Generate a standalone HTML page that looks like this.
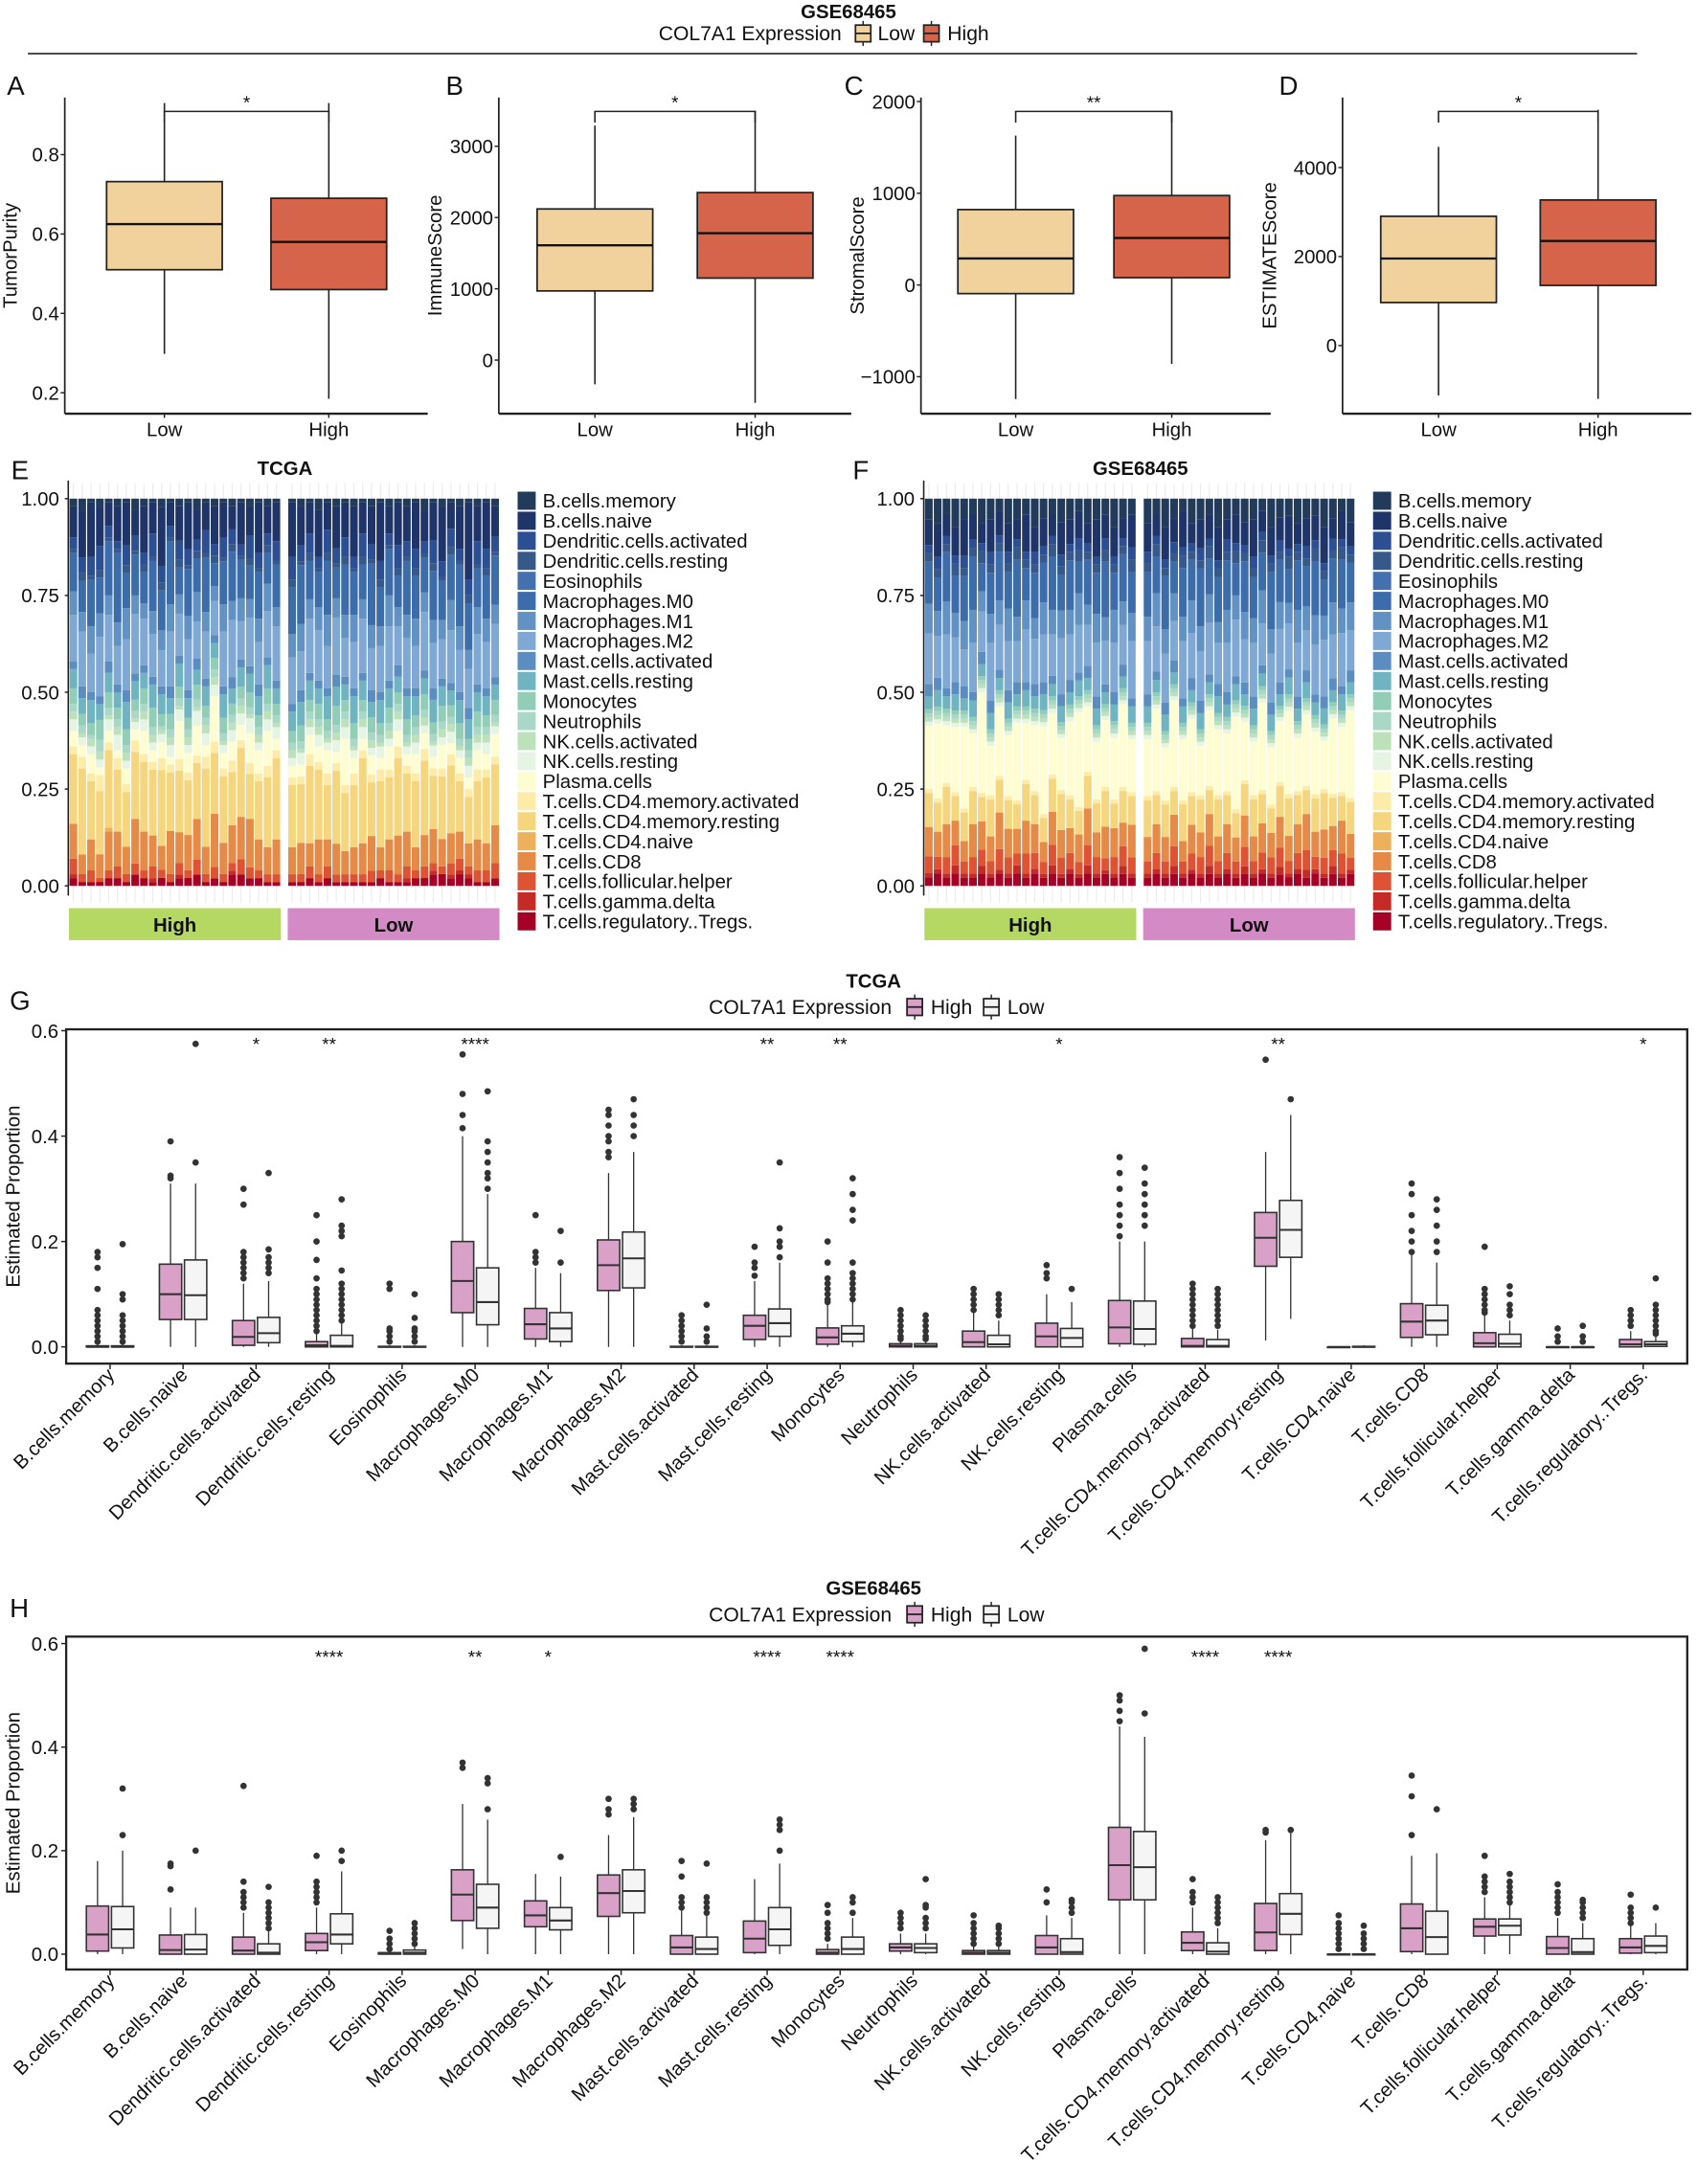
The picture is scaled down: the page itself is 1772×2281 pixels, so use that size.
<!DOCTYPE html>
<html><head><meta charset="utf-8"><title>COL7A1 immune infiltration</title>
<style>html,body{margin:0;padding:0;background:#fff}svg{display:block}text{font-family:"Liberation Sans",Arial,sans-serif;fill:#111}</style></head>
<body>
<svg id="fig" xmlns="http://www.w3.org/2000/svg" width="1772" height="2281" viewBox="0 0 1218 1568" preserveAspectRatio="none"></svg>
<script>
// ---------- data: panels A-D  [whiskerLow, q1, median, q3, whiskerHigh] ----------
const purityLow=[0.298,0.51,0.625,0.732,0.93];
const purityHigh=[0.185,0.46,0.58,0.69,0.93];
const immuneLow=[-340,970,1610,2120,3290];
const immuneHigh=[-600,1150,1780,2350,3500];
const stromalLow=[-1243,-94,289,822,1629];
const stromalHigh=[-860,80,512,975,1880];
const estimateLow=[-1120,967,1956,2905,4466];
const estimateHigh=[-1199,1352,2350,3271,5300];
const purityTicks=[0.2,0.4,0.6,0.8];
const immuneTicks=[0,1000,2000,3000];
const stromalTicks=[-1000,0,1000,2000];
const estimateTicks=[0,2000,4000];
const groupLabels=["Low","High"];

// ---------- data: stacked CIBERSORT bars ----------
const cellTypes=["B.cells.memory","B.cells.naive","Dendritic.cells.activated","Dendritic.cells.resting","Eosinophils","Macrophages.M0","Macrophages.M1","Macrophages.M2","Mast.cells.activated","Mast.cells.resting","Monocytes","Neutrophils","NK.cells.activated","NK.cells.resting","Plasma.cells","T.cells.CD4.memory.activated","T.cells.CD4.memory.resting","T.cells.CD4.naive","T.cells.CD8","T.cells.follicular.helper","T.cells.gamma.delta","T.cells.regulatory..Tregs."];
const cellColors=["#233B5B","#1F3468","#2C4F94","#36598A","#4470B0","#3D6CAA","#6291C4","#7FA8D4","#5B8DC0","#6FB4C0","#92CDB8","#A9D8C6","#BDE2BB","#E6F4E4","#FEFDD2","#FCEBA9","#F6D57F","#EDB15B","#E68A48","#DE5334","#C42A26","#A50026"];
const eHigh=[
[2,8,3,1,0,10,6,12,2,5,4,2,2,3,4,2,18,0,9,4,1,2],[3,12,4,2,0,8,5,14,3,4,3,2,1,2,3,3,22,0,5,2,0,1],[1,14,5,1,0,12,7,10,2,6,3,1,2,2,5,2,15,0,8,3,0,1],[2,10,6,2,0,9,6,15,2,4,5,3,2,2,2,4,16,0,6,1,0,1],
[1,6,3,1,0,14,5,12,3,5,4,2,1,3,3,2,20,1,10,2,0,2],[2,9,2,1,0,18,6,10,2,4,3,2,2,4,2,3,16,0,9,3,0,2],[1,11,5,2,0,9,8,13,3,7,4,2,2,2,4,2,14,0,7,2,0,1],[3,7,4,1,0,11,5,16,2,5,3,2,1,2,3,3,18,0,12,3,0,3],
[2,12,3,2,0,8,4,12,2,4,4,2,2,3,6,2,18,0,10,2,0,2],[1,8,6,1,0,13,6,11,2,6,5,2,2,2,3,2,17,0,8,3,1,1],[2,15,4,2,0,10,5,9,2,5,3,1,1,2,4,3,19,0,6,2,0,2],[1,6,3,1,0,16,7,14,3,4,4,2,2,3,2,2,15,0,11,2,0,1],
[2,9,5,2,0,7,5,11,2,6,3,2,1,3,10,3,16,0,8,3,1,2],[1,12,4,1,0,12,6,13,2,5,3,2,2,2,5,2,14,0,9,2,0,2],[3,8,3,2,0,9,8,10,3,4,4,2,1,4,8,2,15,0,11,4,0,3],[1,7,6,1,0,14,5,12,2,5,3,2,2,3,3,3,20,0,7,2,0,1],
[2,10,3,2,0,6,4,9,2,4,3,2,2,3,12,3,16,0,14,3,0,2],[1,9,5,1,0,11,7,14,2,6,4,2,1,2,4,2,17,0,8,2,0,1],[2,6,4,2,0,13,5,15,3,4,3,2,2,3,5,3,14,0,10,2,1,3],[1,11,3,1,0,10,6,10,2,5,3,2,2,3,4,2,18,0,11,4,0,3],
[2,8,6,2,0,9,5,13,2,5,4,2,1,4,8,3,12,0,13,3,0,2],[1,13,4,1,0,12,6,11,3,5,3,2,2,2,6,2,15,0,8,2,0,2],[2,7,3,2,0,8,7,12,2,6,4,2,2,3,9,3,18,0,7,2,0,1],[1,10,5,1,0,11,5,14,2,4,3,2,1,3,3,2,21,0,9,2,0,1]];
const eLow=[
[1,14,6,2,0,12,6,12,2,5,3,2,2,2,3,2,16,0,7,2,0,1],[2,10,4,1,0,15,7,10,3,6,4,2,1,3,3,2,15,0,8,2,0,1],[1,8,5,2,0,10,5,14,2,5,3,2,2,2,5,3,20,0,6,3,0,2],[3,12,3,1,0,9,6,13,2,4,4,2,2,3,4,2,18,0,9,2,0,1],
[1,7,6,2,0,14,8,11,2,6,3,2,1,2,6,3,14,0,7,3,0,2],[2,11,4,1,0,8,5,15,3,5,5,2,2,3,3,2,19,0,8,2,0,1],[1,9,5,2,0,13,6,10,2,4,3,2,2,3,12,2,15,0,6,2,0,1],[2,13,3,1,0,11,7,12,2,7,4,2,1,2,4,3,16,0,7,2,0,1],
[1,8,6,2,0,9,5,14,2,5,3,2,2,3,3,2,22,0,8,2,0,1],[2,10,4,1,0,16,6,11,3,4,4,2,2,2,5,2,14,0,9,3,0,1],[1,15,5,2,0,10,5,12,2,6,3,2,1,3,3,3,17,0,6,2,0,2],[2,7,3,1,0,12,8,14,2,5,4,2,2,2,6,2,16,0,8,3,0,1],
[1,11,6,2,0,8,5,10,3,4,3,2,2,3,4,3,20,0,10,2,0,1],[2,9,4,1,0,14,6,13,2,6,4,2,1,2,3,2,15,0,9,3,1,1],[1,12,5,2,0,11,7,11,2,5,3,2,2,3,5,2,17,0,6,2,0,2],[3,8,3,1,0,9,5,15,2,4,4,2,2,2,4,3,19,0,8,3,0,2],
[1,10,6,2,0,13,6,12,3,6,3,2,1,3,3,2,14,0,9,2,1,3],[2,14,4,1,0,10,5,10,2,5,4,2,2,2,6,2,16,0,7,2,0,3],[1,7,5,2,0,12,8,14,2,4,3,2,2,3,3,3,18,0,8,3,1,2],[2,11,3,1,0,16,6,11,2,6,4,2,1,2,4,2,13,0,7,3,1,3],
[1,20,4,2,0,12,5,10,3,5,3,2,2,3,3,2,12,0,6,2,1,2],[2,9,6,1,0,10,7,13,2,5,4,2,2,2,5,3,15,0,8,3,0,1],[1,12,5,2,0,11,6,12,2,5,3,2,2,3,4,2,17,0,7,3,0,1],[2,8,4,1,0,13,5,14,2,4,4,2,1,2,6,2,16,0,10,4,0,2]];
const fHigh=[
[5,6,2,2,0,10,7,12,3,3,1,1,1,1,15,1,8,0,7,4,1,2],[6,8,3,2,0,8,6,10,3,4,1,1,1,1,18,1,7,0,6,3,1,3],[4,5,2,2,0,12,8,13,2,3,1,1,1,1,14,1,9,0,8,4,1,2],[7,7,2,3,0,9,6,11,3,4,1,1,1,1,16,1,6,0,6,5,2,3],
[5,9,3,2,0,11,7,9,3,3,1,1,1,1,20,1,7,0,5,3,1,2],[4,6,2,2,0,13,8,12,2,4,1,1,1,1,13,1,8,0,8,4,1,2],[6,5,2,3,0,7,5,10,3,3,1,1,1,1,25,1,6,0,7,4,2,3],[5,8,3,2,0,10,7,14,3,4,1,1,1,1,12,1,9,0,6,3,1,2],
[3,6,2,2,0,12,6,11,2,3,1,1,1,1,17,1,8,0,9,5,1,3],[6,7,3,2,0,9,8,12,3,4,1,1,1,1,15,1,7,0,7,4,1,2],[5,5,2,3,0,14,6,10,3,3,1,1,1,1,19,1,6,0,6,3,2,3],[4,9,2,2,0,8,7,13,2,4,1,1,1,1,14,1,9,0,8,5,1,2],
[7,6,3,2,0,11,5,11,3,3,1,1,1,1,16,1,7,0,7,4,1,3],[5,7,2,2,0,10,8,12,3,4,1,1,1,1,22,1,6,0,5,3,1,2],[4,5,2,3,0,13,6,10,2,3,1,1,1,1,15,1,8,0,8,5,2,3],[6,8,3,2,0,9,7,14,3,4,1,1,1,1,13,1,9,0,7,4,1,2],
[5,6,2,2,0,12,6,11,3,3,1,1,1,1,18,1,7,0,6,4,1,3],[3,7,3,3,0,8,8,12,2,4,1,1,1,1,24,1,6,0,7,3,1,2],[6,5,2,2,0,11,5,10,3,3,1,1,1,1,16,1,8,0,9,5,2,3],[5,9,2,2,0,10,7,13,3,4,1,1,1,1,14,1,7,0,6,4,1,2],
[4,6,3,3,0,14,6,11,2,3,1,1,1,1,17,1,9,0,8,3,1,3],[7,7,2,2,0,9,8,12,3,4,1,1,1,1,15,1,6,0,7,4,1,2],[5,5,2,2,0,12,6,10,3,3,1,1,1,1,21,1,8,0,6,5,2,3],[4,8,3,3,0,10,7,14,2,4,1,1,1,1,13,1,7,0,8,4,1,2]];
const fLow=[
[6,7,3,2,0,11,6,13,3,4,1,1,1,1,14,1,9,0,6,3,1,2],[4,5,2,3,0,9,8,11,2,3,1,1,1,1,20,1,7,0,7,4,1,3],[7,8,2,2,0,13,6,12,3,4,1,1,1,1,13,1,8,0,6,3,1,2],[5,6,3,2,0,8,7,10,3,3,1,1,1,1,22,1,6,0,8,5,2,3],
[3,9,2,3,0,12,6,14,2,4,1,1,1,1,15,1,9,0,5,3,1,2],[6,5,2,2,0,10,8,11,3,3,1,1,1,1,18,1,7,0,7,4,1,3],[5,7,3,2,0,14,6,12,3,4,1,1,1,1,12,1,8,0,6,4,1,2],[4,6,2,3,0,9,7,13,2,3,1,1,1,1,19,1,6,0,8,5,2,3],
[7,8,2,2,0,11,5,10,3,4,1,1,1,1,16,1,9,0,6,3,1,2],[5,5,3,2,0,12,8,12,3,3,1,1,1,1,14,1,7,0,7,4,1,3],[4,7,2,3,0,8,6,14,2,4,1,1,1,1,23,1,6,0,6,3,1,2],[6,6,2,2,0,13,7,11,3,3,1,1,1,1,15,1,8,0,8,5,2,3],
[5,9,3,2,0,10,6,13,3,4,1,1,1,1,13,1,9,0,6,3,1,2],[3,5,2,3,0,9,8,10,2,3,1,1,1,1,21,1,7,0,7,4,1,3],[7,7,2,2,0,14,6,12,3,4,1,1,1,1,14,1,6,0,6,4,1,2],[5,6,3,2,0,11,7,14,3,3,1,1,1,1,16,1,8,0,8,5,2,3],
[4,8,2,3,0,8,5,11,2,4,1,1,1,1,20,1,9,0,6,3,1,2],[6,5,2,2,0,12,8,13,3,3,1,1,1,1,13,1,7,0,7,4,1,3],[5,7,3,2,0,10,6,10,3,4,1,1,1,1,18,1,6,0,9,5,2,2],[4,6,2,3,0,13,7,12,2,3,1,1,1,1,15,1,8,0,6,3,1,3],
[7,9,2,2,0,9,6,14,3,4,1,1,1,1,12,1,9,0,7,4,1,2],[5,5,3,2,0,11,8,11,3,3,1,1,1,1,19,1,7,0,6,4,2,3],[3,7,2,3,0,12,6,13,2,4,1,1,1,1,16,1,6,0,8,5,1,2],[6,6,2,2,0,10,7,10,3,3,1,1,1,1,22,1,8,0,6,3,1,3]];
const stackTicks=[0,0.25,0.5,0.75,1];
const stackTickLabels=["0.00","0.25","0.50","0.75","1.00"];

// ---------- data: panels G/H  [whiskerLow, q1, median, q3, whiskerHigh] ----------
const gHigh=[[0,0,0,0.002,0.005],[0,0.052,0.10,0.157,0.31],[0,0.003,0.019,0.05,0.12],[0,0,0.003,0.01,0.025],[0,0,0,0.001,0.003],[0,0.065,0.125,0.2,0.4],[0,0.015,0.043,0.073,0.15],[0,0.107,0.155,0.203,0.33],[0,0,0,0.001,0.003],[0,0.014,0.04,0.06,0.125],[0,0.005,0.018,0.036,0.08],[0,0,0.002,0.006,0.012],[0,0,0.009,0.03,0.065],[0,0,0.02,0.045,0.1],[0,0.006,0.037,0.088,0.2],[0,0,0.002,0.016,0.035],[0.012,0.153,0.207,0.255,0.37],[0,0,0,0,0],[0,0.018,0.048,0.082,0.175],[0,0,0.007,0.027,0.06],[0,0,0,0,0.001],[0,0,0.005,0.014,0.03]];
const gLow=[[0,0,0,0.002,0.005],[0,0.052,0.098,0.165,0.31],[0,0.008,0.026,0.056,0.125],[0,0,0.002,0.022,0.05],[0,0,0,0.001,0.003],[0,0.042,0.085,0.15,0.29],[0,0.01,0.035,0.065,0.14],[0,0.112,0.168,0.218,0.37],[0,0,0,0.001,0.003],[0,0.02,0.045,0.072,0.16],[0,0.01,0.025,0.04,0.085],[0,0,0.002,0.006,0.012],[0,0,0.005,0.022,0.05],[0,0,0.017,0.035,0.085],[0,0.005,0.034,0.087,0.2],[0,0,0.002,0.014,0.033],[0.053,0.17,0.222,0.278,0.44],[0,0,0,0.001,0.003],[0,0.023,0.05,0.079,0.16],[0,0,0.006,0.024,0.05],[0,0,0,0,0.001],[0,0.001,0.005,0.01,0.02]];
const gHighOut=[[0.01,0.02,0.03,0.04,0.05,0.06,0.07,0.11,0.15,0.17,0.18],[0.32,0.325,0.39],[0.13,0.14,0.15,0.16,0.17,0.18,0.27,0.3],[0.03,0.04,0.05,0.06,0.07,0.08,0.09,0.1,0.11,0.13,0.165,0.2,0.25],[0.01,0.02,0.03,0.035,0.11,0.12],[0.415,0.44,0.48,0.555],[0.16,0.17,0.18,0.25],[0.36,0.37,0.39,0.4,0.42,0.44,0.45],[0.01,0.02,0.03,0.04,0.05,0.06],[0.135,0.15,0.16,0.19],[0.085,0.09,0.1,0.11,0.12,0.13,0.16,0.2],[0.015,0.02,0.03,0.04,0.05,0.06,0.07],[0.07,0.08,0.09,0.1,0.11],[0.13,0.14,0.155],[0.21,0.23,0.25,0.27,0.3,0.33,0.36],[0.04,0.05,0.06,0.07,0.08,0.09,0.1,0.11,0.12],[0.545],[],[0.18,0.2,0.22,0.25,0.29,0.31],[0.065,0.07,0.08,0.09,0.1,0.11,0.19],[0.01,0.02,0.035],[0.04,0.05,0.06,0.07]];
const gLowOut=[[0.01,0.02,0.03,0.04,0.05,0.06,0.09,0.1,0.195],[0.35,0.575],[0.14,0.15,0.16,0.17,0.185,0.33],[0.05,0.06,0.07,0.08,0.09,0.1,0.11,0.12,0.145,0.21,0.22,0.23,0.28],[0.01,0.02,0.03,0.035,0.055,0.1],[0.3,0.32,0.33,0.35,0.37,0.39,0.485],[0.16,0.22],[0.4,0.42,0.44,0.47],[0.01,0.02,0.035,0.08],[0.17,0.19,0.2,0.225,0.35],[0.09,0.1,0.11,0.12,0.13,0.14,0.16,0.24,0.26,0.29,0.32],[0.015,0.02,0.03,0.04,0.05,0.06],[0.06,0.07,0.08,0.09,0.1],[0.11],[0.23,0.25,0.27,0.29,0.31,0.34],[0.04,0.05,0.06,0.07,0.08,0.09,0.1,0.11],[0.47],[],[0.18,0.2,0.23,0.26,0.28],[0.06,0.07,0.08,0.1,0.115],[0.01,0.02,0.04],[0.025,0.03,0.04,0.05,0.06,0.07,0.08,0.13]];
const gSig=["","","*","**","","****","","","","**","**","","","*","","","**","","","","","*"];

const hHigh=[[0,0.006,0.038,0.093,0.18],[0,0,0.008,0.037,0.09],[0,0,0.007,0.033,0.08],[0,0.007,0.023,0.04,0.09],[0,0,0.001,0.003,0.006],[0.01,0.065,0.115,0.163,0.29],[0,0.053,0.075,0.103,0.155],[0,0.073,0.118,0.153,0.23],[0,0,0.013,0.036,0.085],[0,0.003,0.03,0.064,0.145],[0,0,0.003,0.009,0.02],[0,0.006,0.013,0.02,0.04],[0,0,0.003,0.007,0.015],[0,0,0.013,0.036,0.075],[0,0.105,0.172,0.245,0.44],[0,0.007,0.022,0.043,0.09],[0,0.007,0.042,0.098,0.22],[0,0,0,0,0.001],[0,0.005,0.05,0.097,0.19],[0,0.035,0.053,0.068,0.11],[0,0,0.012,0.034,0.07],[0,0.002,0.013,0.03,0.055]];
const hLow=[[0,0.012,0.048,0.092,0.2],[0,0,0.009,0.038,0.09],[0,0,0.003,0.02,0.045],[0,0.02,0.038,0.078,0.16],[0,0,0.003,0.008,0.015],[0,0.05,0.09,0.135,0.26],[0,0.047,0.065,0.09,0.15],[0,0.08,0.122,0.163,0.265],[0,0,0.01,0.033,0.075],[0,0.017,0.048,0.09,0.175],[0,0,0.01,0.033,0.07],[0,0.003,0.012,0.02,0.04],[0,0,0.003,0.007,0.015],[0,0,0.004,0.03,0.07],[0,0.105,0.168,0.237,0.42],[0,0,0.005,0.022,0.05],[0,0.038,0.078,0.117,0.235],[0,0,0,0,0.001],[0,0,0.033,0.083,0.195],[0,0.037,0.055,0.068,0.095],[0,0,0.004,0.03,0.06],[0,0.003,0.016,0.035,0.06]];
const hHighOut=[[],[0.125,0.17,0.175],[0.09,0.1,0.11,0.12,0.14,0.325],[0.1,0.11,0.12,0.13,0.14,0.19],[0.01,0.02,0.03,0.045],[0.36,0.37],[],[0.27,0.28,0.3],[0.09,0.1,0.11,0.15,0.18],[],[0.03,0.04,0.05,0.06,0.08,0.095],[0.05,0.06,0.07,0.08],[0.02,0.03,0.04,0.05,0.06,0.075],[0.1,0.125],[0.45,0.47,0.49,0.5],[0.1,0.11,0.12,0.145],[0.235,0.24],[0.01,0.02,0.03,0.04,0.05,0.06,0.075],[0.23,0.305,0.345],[0.12,0.13,0.14,0.15,0.19],[0.08,0.09,0.1,0.11,0.12,0.135],[0.06,0.07,0.08,0.09,0.115]];
const hLowOut=[[0.23,0.32],[0.2],[0.05,0.06,0.07,0.08,0.09,0.1,0.13],[0.18,0.2],[0.02,0.03,0.04,0.05,0.06],[0.28,0.33,0.34],[0.188],[0.28,0.29,0.3],[0.08,0.09,0.1,0.11,0.175],[0.2,0.24,0.25,0.26],[0.08,0.1,0.11],[0.05,0.06,0.07,0.09,0.095,0.145],[0.02,0.03,0.04,0.05,0.055],[0.08,0.09,0.1,0.105],[0.465,0.59],[0.06,0.07,0.08,0.09,0.1,0.11],[0.24],[0.01,0.02,0.03,0.04,0.055],[0.28],[0.1,0.11,0.12,0.13,0.14,0.155],[0.07,0.08,0.09,0.1,0.105],[0.09]];
const hSig=["","","","****","","**","*","","","****","****","","","","","****","****","","","","",""];
const propTicks=[0,0.2,0.4,0.6];
const propTickLabels=["0.0","0.2","0.4","0.6"];

// ---------- helpers ----------
const NS="http://www.w3.org/2000/svg";
const svg=document.getElementById('fig');
function el(tag,attrs,parent,txt){const e=document.createElementNS(NS,tag);for(const k in attrs)e.setAttribute(k,attrs[k]);if(txt!==undefined)e.textContent=txt;(parent||svg).appendChild(e);return e;}
function grp(name){const g=el('g',{});return g;}
function lin(d0,d1,r0,r1){return v=>r0+(v-d0)/(d1-d0)*(r1-r0);}

// header
const hdr=grp('header');
el('text',{x:609,y:13,'text-anchor':'middle','font-size':14,'font-weight':'bold'},hdr,'GSE68465');
el('text',{x:604,y:29,'text-anchor':'end','font-size':14.5},hdr,'COL7A1 Expression');
function legSwatch(g,x,y,fill){el('rect',{x:x,y:y-6,width:11,height:12,fill:fill,stroke:'#222','stroke-width':1.2},g);el('line',{x1:x,x2:x+11,y1:y,y2:y,stroke:'#222','stroke-width':1.2},g);el('line',{x1:x+5.5,x2:x+5.5,y1:y-9,y2:y-6,stroke:'#222'},g);el('line',{x1:x+5.5,x2:x+5.5,y1:y+6,y2:y+9,stroke:'#222'},g);}
legSwatch(hdr,614,24,'#F2D29C');el('text',{x:630,y:29,'font-size':14.5},hdr,'Low');
legSwatch(hdr,663,24,'#D6644B');el('text',{x:680,y:29,'font-size':14.5},hdr,'High');
el('line',{x1:20,x2:1175,y1:38.5,y2:38.5,stroke:'#333','stroke-width':1.2},hdr);

// ---------- panels A-D ----------
const scorePanels=[
 {name:'tumor-purity',letter:'A',lx:5,ax:46.5,axR:307,xL:118,xH:236,title:'TumorPurity',tx:12,ticks:purityTicks,low:purityLow,high:purityHigh,y0:0.8,p0:111,y1:0.2,p1:282,sig:'*',fmt:v=>v.toFixed(1)},
 {name:'immune-score',letter:'B',lx:320,ax:358,axR:611,xL:427,xH:542,title:'ImmuneScore',tx:317,ticks:immuneTicks,low:immuneLow,high:immuneHigh,y0:3000,p0:105,y1:0,p1:258.5,sig:'*',fmt:v=>String(v)},
 {name:'stromal-score',letter:'C',lx:606,ax:661,axR:912,xL:729,xH:841,title:'StromalScore',tx:620,ticks:stromalTicks,low:stromalLow,high:stromalHigh,y0:2000,p0:72.9,y1:0,p1:204.6,sig:'**',fmt:v=>v<0?'\u2212'+(-v):String(v)},
 {name:'estimate-score',letter:'D',lx:918,ax:963.6,axR:1214,xL:1032.5,xH:1147,title:'ESTIMATEScore',tx:916,ticks:estimateTicks,low:estimateLow,high:estimateHigh,y0:4000,p0:120.3,y1:0,p1:248.1,sig:'*',fmt:v=>String(v)}];
scorePanels.forEach(p=>{
 const g=grp('panel-'+p.name);
 const y=lin(p.y0,p.y1,p.p0,p.p1);
 el('text',{x:p.lx,y:68,'font-size':19},g,p.letter);
 el('line',{x1:p.ax,x2:p.ax,y1:70,y2:297,stroke:'#222','stroke-width':1.2},g);
 el('line',{x1:p.ax,x2:p.axR,y1:297,y2:297,stroke:'#222','stroke-width':1.6},g);
 p.ticks.forEach(t=>{el('line',{x1:p.ax-3,x2:p.ax,y1:y(t),y2:y(t),stroke:'#222'},g);el('text',{x:p.ax-4,y:y(t)+5,'text-anchor':'end','font-size':14,fill:'#222'},g,p.fmt(t));});
 el('text',{transform:`translate(${p.tx},${(70+297)/2}) rotate(-90)`,'text-anchor':'middle','font-size':14},g,p.title);
 [[p.xL,p.low,'#F2D29C',groupLabels[0]],[p.xH,p.high,'#D6644B',groupLabels[1]]].forEach(([cx,s,f,lab])=>{
  const b=grp('box-'+lab.toLowerCase());g.appendChild(b);
  el('line',{x1:cx,x2:cx,y1:y(s[0]),y2:y(s[4]),stroke:'#222','stroke-width':1.1},b);
  el('rect',{x:cx-41.5,y:y(s[3]),width:83,height:y(s[1])-y(s[3]),fill:f,stroke:'#222','stroke-width':1.2},b);
  el('line',{x1:cx-41.5,x2:cx+41.5,y1:y(s[2]),y2:y(s[2]),stroke:'#111','stroke-width':1.6},b);
  el('line',{x1:cx,x2:cx,y1:297,y2:300,stroke:'#222'},g);
  el('text',{x:cx,y:313,'text-anchor':'middle','font-size':14,fill:'#222'},g,lab);
 });
 el('path',{d:`M${p.xL} 88 V80 H${p.xH} V88`,fill:'none',stroke:'#222','stroke-width':1.1},g);
 el('text',{x:(p.xL+p.xH)/2,y:78,'text-anchor':'middle','font-size':13},g,p.sig);
});

// ---------- panels E/F stacked bars ----------
function stackPanel(name,letter,lx,title,x0,high,low){
 const g=grp('panel-'+name);
 const y=lin(0,1,636,358);
 el('text',{x:lx,y:344,'font-size':19},g,letter);
 el('text',{x:x0+155,y:341,'text-anchor':'middle','font-size':14,'font-weight':'bold'},g,title);
 const bw=(152)/high.length;
 const groups=[[high,x0,'High','#B5D862'],[low,x0+157,'Low','#D48BC5']];
 groups.forEach(([rows,gx,lab,col])=>{
  const bg=grp('bars-'+lab.toLowerCase());g.appendChild(bg);
  rows.forEach((r,i)=>{
   const bx=gx+i*bw;
   el('line',{x1:bx+bw/2,x2:bx+bw/2,y1:347,y2:648,stroke:'#ECECEC','stroke-width':0.8},bg);
   const tot=r.reduce((a,b)=>a+b,0);let cum=0;
   for(let k=r.length-1;k>=0;k--){
    const v=r[k]/tot;if(v<=0)continue;
    const yt=y(cum+v),yb=y(cum);
    el('rect',{x:bx+0.4,y:yt,width:bw-0.8,height:yb-yt,fill:cellColors[k]},bg);
    cum+=v;
   }
  });
  const st=el('rect',{x:gx,y:652,width:152,height:23,fill:col},g);
  
  el('text',{x:gx+76,y:669,'text-anchor':'middle','font-size':14,'font-weight':'bold'},g,lab);
 });
 el('line',{x1:x0-0.5,x2:x0-0.5,y1:345,y2:643,stroke:'#222','stroke-width':1.1},g);
 stackTicks.forEach((t,i)=>{el('line',{x1:x0-3,x2:x0-0.5,y1:y(t),y2:y(t),stroke:'#222'},g);el('text',{x:x0-7,y:y(t)+5,'text-anchor':'end','font-size':14,fill:'#222'},g,stackTickLabels[i]);});
 const lg=grp('legend-'+name);g.appendChild(lg);
 const sx=x0+322;
 cellTypes.forEach((c,i)=>{
  const ly=353+i*14.38;
  el('rect',{x:sx,y:ly,width:13,height:13,fill:cellColors[i]},lg);
  el('text',{x:sx+18,y:ly+11.5,'font-size':14},lg,c);
 });
}
stackPanel('tcga-stacked','E',8,'TCGA',49.5,eHigh,eLow);
stackPanel('gse-stacked','F',612,'GSE68465',663.5,fHigh,fLow);

// ---------- panels G/H grouped boxplots ----------
function groupedPanel(name,letter,title,top,y06,y00,bottom,high,low,highOut,lowOut,sig){
 const g=grp('panel-'+name);
 const y=lin(0,0.6,y00,y06);
 el('text',{x:7,y:top-14,'font-size':19},g,letter);
 el('text',{x:627,y:top-30,'text-anchor':'middle','font-size':14,'font-weight':'bold'},g,title);
 el('text',{x:640,y:top-11,'text-anchor':'end','font-size':14.5},g,'COL7A1 Expression');
 legSwatch(g,651,top-16,'#D9A0C8');el('text',{x:668,y:top-11,'font-size':14.5},g,'High');
 legSwatch(g,706,top-16,'#F5F5F5');el('text',{x:723,y:top-11,'font-size':14.5},g,'Low');
 el('rect',{x:47.5,y:top,width:1163.5,height:bottom-top,fill:'none',stroke:'#222','stroke-width':1.6},g);
 propTicks.forEach((t,i)=>{el('line',{x1:44,x2:47.5,y1:y(t),y2:y(t),stroke:'#222'},g);el('text',{x:42,y:y(t)+5,'text-anchor':'end','font-size':14,fill:'#222'},g,propTickLabels[i]);});
 el('text',{transform:`translate(14,${(top+bottom)/2}) rotate(-90)`,'text-anchor':'middle','font-size':14},g,'Estimated Proportion');
 const xc=i=>79+i*52.4;
 cellTypes.forEach((c,i)=>{
  const cg=grp('group-'+c.toLowerCase().replace(/\./g,'-'));g.appendChild(cg);
  [[high[i],highOut[i],-9,'#D9A0C8'],[low[i],lowOut[i],9,'#F5F5F5']].forEach(([s,o,dx,f])=>{
   const cx=xc(i)+dx;
   el('line',{x1:cx,x2:cx,y1:y(s[0]),y2:y(s[4]),stroke:'#333','stroke-width':0.9},cg);
   el('rect',{x:cx-8,y:y(s[3]),width:16,height:Math.max(0.5,y(s[1])-y(s[3])),fill:f,stroke:'#333','stroke-width':1.1},cg);
   el('line',{x1:cx-8,x2:cx+8,y1:y(s[2]),y2:y(s[2]),stroke:'#333','stroke-width':1.4},cg);
   o.forEach(v=>el('circle',{cx:cx,cy:y(v),r:2.3,fill:'#333'},cg));
  });
  if(sig[i])el('text',{x:xc(i),y:y(0.6)+14,'text-anchor':'middle','font-size':13},cg,sig[i]);
  el('line',{x1:xc(i),x2:xc(i),y1:bottom,y2:bottom+4,stroke:'#222'},g);
  el('text',{transform:`translate(${xc(i)+4},${bottom+9}) rotate(-45)`,'text-anchor':'end','font-size':14,fill:'#222'},cg,c);
 });
}
groupedPanel('tcga-boxplots','G','TCGA',739,740,967,979,gHigh,gLow,gHighOut,gLowOut,gSig);
groupedPanel('gse-boxplots','H','GSE68465',1175,1180,1403,1414,hHigh,hLow,hHighOut,hLowOut,hSig);
</script>
</body></html>
